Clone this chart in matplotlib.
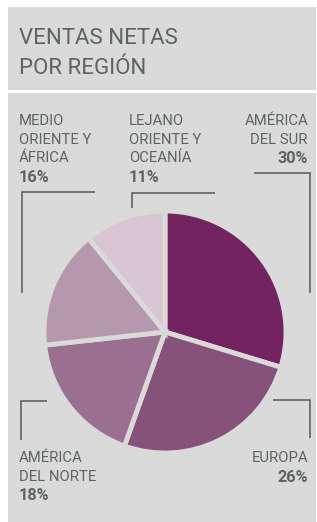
import matplotlib
matplotlib.use("Agg")
import matplotlib.pyplot as plt
from matplotlib.patches import Rectangle

W, H = 317, 522
BG = "#dadada"
TXT = "#5c6365"
LINE = "#656b6c"

title_lines = ["VENTAS NETAS", "POR REGIÓN"]
regions = ["AMÉRICA\nDEL SUR", "EUROPA", "AMÉRICA\nDEL NORTE",
           "MEDIO\nORIENTE Y\nÁFRICA", "LEJANO\nORIENTE Y\nOCEANÍA"]
shares = [30, 26, 18, 16, 11]
colors = ["#722360", "#87527a", "#9b6f8f", "#b698ae", "#d8c6d3"]

fig = plt.figure(figsize=(W / 100, H / 100), dpi=100)
fig.patch.set_facecolor("white")
ax = fig.add_axes([0, 0, 1, 1])

def Y(y):
    return H - y

FAM = ["Roboto", "DejaVu Sans"]

# panels
ax.add_patch(Rectangle((8, Y(90)), W - 9, 83, facecolor=BG, edgecolor="none", zorder=0))
ax.add_patch(Rectangle((8, 0), W - 9, Y(93), facecolor=BG, edgecolor="none", zorder=0))

# title
for i, t in enumerate(title_lines):
    ax.text(19, Y(44.5 + i * 30), t, fontsize=16, color=TXT, family=FAM,
            ha="left", va="baseline")

# pie
ax.pie(shares, colors=colors, startangle=90, counterclock=False,
       center=(165, Y(332)), radius=121, frame=True,
       wedgeprops=dict(edgecolor=BG, linewidth=3.5))
ax.set_xlim(0, W)
ax.set_ylim(0, H)
ax.set_aspect("equal")
ax.axis("off")

def label(x, y0, name, pct, ha):
    lines = name.split("\n")
    for i, ln in enumerate(lines):
        ax.text(x, Y(y0 + i * 18.7), ln, fontsize=10.7, color=TXT, family=FAM,
                ha=ha, va="baseline")
    ax.text(x, Y(y0 + len(lines) * 18.7 + 1), f"{pct}%", fontsize=11.7, color=TXT,
            family=FAM, fontweight="bold", ha=ha, va="baseline")

label(308, 125, regions[0], shares[0], "right")
label(308, 462, regions[1], shares[1], "right")
label(19, 462, regions[2], shares[2], "left")
label(19, 125, regions[3], shares[3], "left")
label(129, 125, regions[4], shares[4], "left")

# leader lines
lk = dict(color=LINE, lw=1.3, solid_capstyle="butt", solid_joinstyle="miter")
ax.plot([254, 310, 310], [Y(173), Y(173), Y(293)], **lk)
ax.plot([273, 310, 310], [Y(400), Y(400), Y(438)], **lk)
ax.plot([47, 21, 21], [Y(401), Y(401), Y(440)], **lk)
ax.plot([95, 22, 22], [Y(192), Y(192), Y(293)], **lk)
ax.plot([215, 132, 132], [Y(193), Y(193), Y(208)], **lk)

fig.savefig("out.png", dpi=100, facecolor="white")
